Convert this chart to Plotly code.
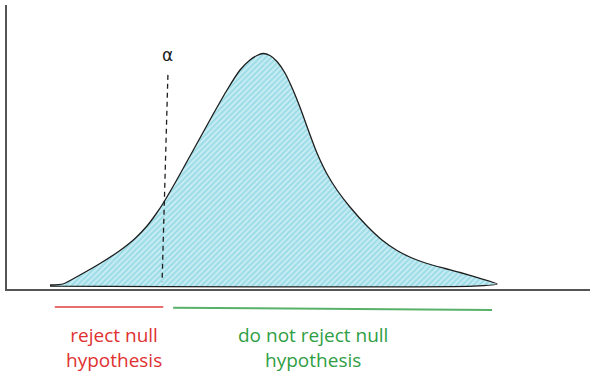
import plotly.graph_objects as go

# Density curve (x in arbitrary units 0-100, density in % of axis height)
curve_x = [7.38, 9.61, 12.52, 15.95, 19.38, 21.96, 24.01, 25.56, 26.76, 28.82,
           30.87, 33.10, 35.33, 37.74, 39.97, 41.68, 42.88, 43.91, 45.11, 46.31,
           47.68, 49.06, 50.43, 51.80, 53.17, 54.89, 56.60, 58.83, 61.75, 64.32,
           66.90, 69.47, 72.04, 75.13, 77.70, 81.13, 84.05]
curve_y = [1.41, 1.76, 4.93, 8.98, 13.56, 17.78, 22.18, 26.41, 30.11, 37.32,
           44.89, 53.17, 61.44, 70.07, 77.11, 80.63, 82.22, 82.92, 82.22, 80.11,
           76.06, 70.07, 63.03, 55.28, 47.89, 40.49, 34.86, 28.87, 22.18, 17.25,
           13.56, 10.92, 8.98, 7.22, 5.81, 3.70, 1.76]
baseline_y = 1.0

# Critical value (alpha) marker
alpha_x = [27.6, 26.6]
alpha_y = [75.4, 2.5]
alpha_label = "α"

# Decision regions along the x axis
reject_region = [8.2, 26.8]
accept_region = [28.5, 83.2]
reject_label = "reject null<br>hypothesis"
accept_label = "do not reject null<br>hypothesis"

RED = "#e03131"
GREEN = "#2f9e44"
INK = "#1e1e1e"

poly_x = curve_x + [curve_x[-1] - 4, curve_x[0]]
poly_y = curve_y + [baseline_y, baseline_y]

fig = go.Figure()
fig.add_trace(go.Scatter(
    x=poly_x, y=poly_y, mode="lines", fill="toself",
    line=dict(color=INK, width=1.3, shape="spline", smoothing=0.6),
    fillcolor="rgba(0,0,0,0)",
    fillpattern=dict(shape="/", fgcolor="#6cc9db", bgcolor="#c9edf3",
                     size=4, solidity=0.5),
    hoverinfo="skip", showlegend=False))

fig.add_trace(go.Scatter(
    x=alpha_x, y=alpha_y, mode="lines",
    line=dict(color=INK, width=1.3, dash="5px,4px"),
    hoverinfo="skip", showlegend=False))

fig.add_annotation(x=alpha_x[0], y=alpha_y[0] + 7, text=alpha_label,
                   showarrow=False, font=dict(size=17, color=INK, family="DejaVu Sans"))

fig.add_shape(type="line", xref="x", yref="paper",
              x0=reject_region[0], x1=reject_region[1], y0=-0.063, y1=-0.063,
              line=dict(color=RED, width=2), opacity=0.7)
fig.add_shape(type="line", xref="x", yref="paper",
              x0=accept_region[0], x1=accept_region[1], y0=-0.066, y1=-0.074,
              line=dict(color=GREEN, width=2), opacity=0.8)

fig.add_annotation(x=(reject_region[0] + reject_region[1]) / 2 + 0.8, xref="x",
                   y=-0.205, yref="paper", text=reject_label, showarrow=False,
                   yanchor="middle", align="center",
                   font=dict(size=19, color=RED, family="Open Sans"))
fig.add_annotation(x=(accept_region[0] + accept_region[1]) / 2 - 3.3, xref="x",
                   y=-0.205, yref="paper", text=accept_label, showarrow=False,
                   yanchor="middle", align="center",
                   font=dict(size=19, color=GREEN, family="Open Sans"))

axis_common = dict(showgrid=False, zeroline=False, showticklabels=False,
                   ticks="", showline=True, linecolor="#555555", linewidth=2)
fig.update_layout(
    width=597, height=377,
    margin=dict(l=7, r=7, t=5, b=88),
    paper_bgcolor="white", plot_bgcolor="white",
    xaxis=dict(range=[0, 100], **axis_common),
    yaxis=dict(range=[0, 100], **axis_common),
    showlegend=False,
)

fig.write_html("out.html", config={"displayModeBar": False},
               post_script="document.body.style.margin='0';document.body.style.overflow='hidden';")
